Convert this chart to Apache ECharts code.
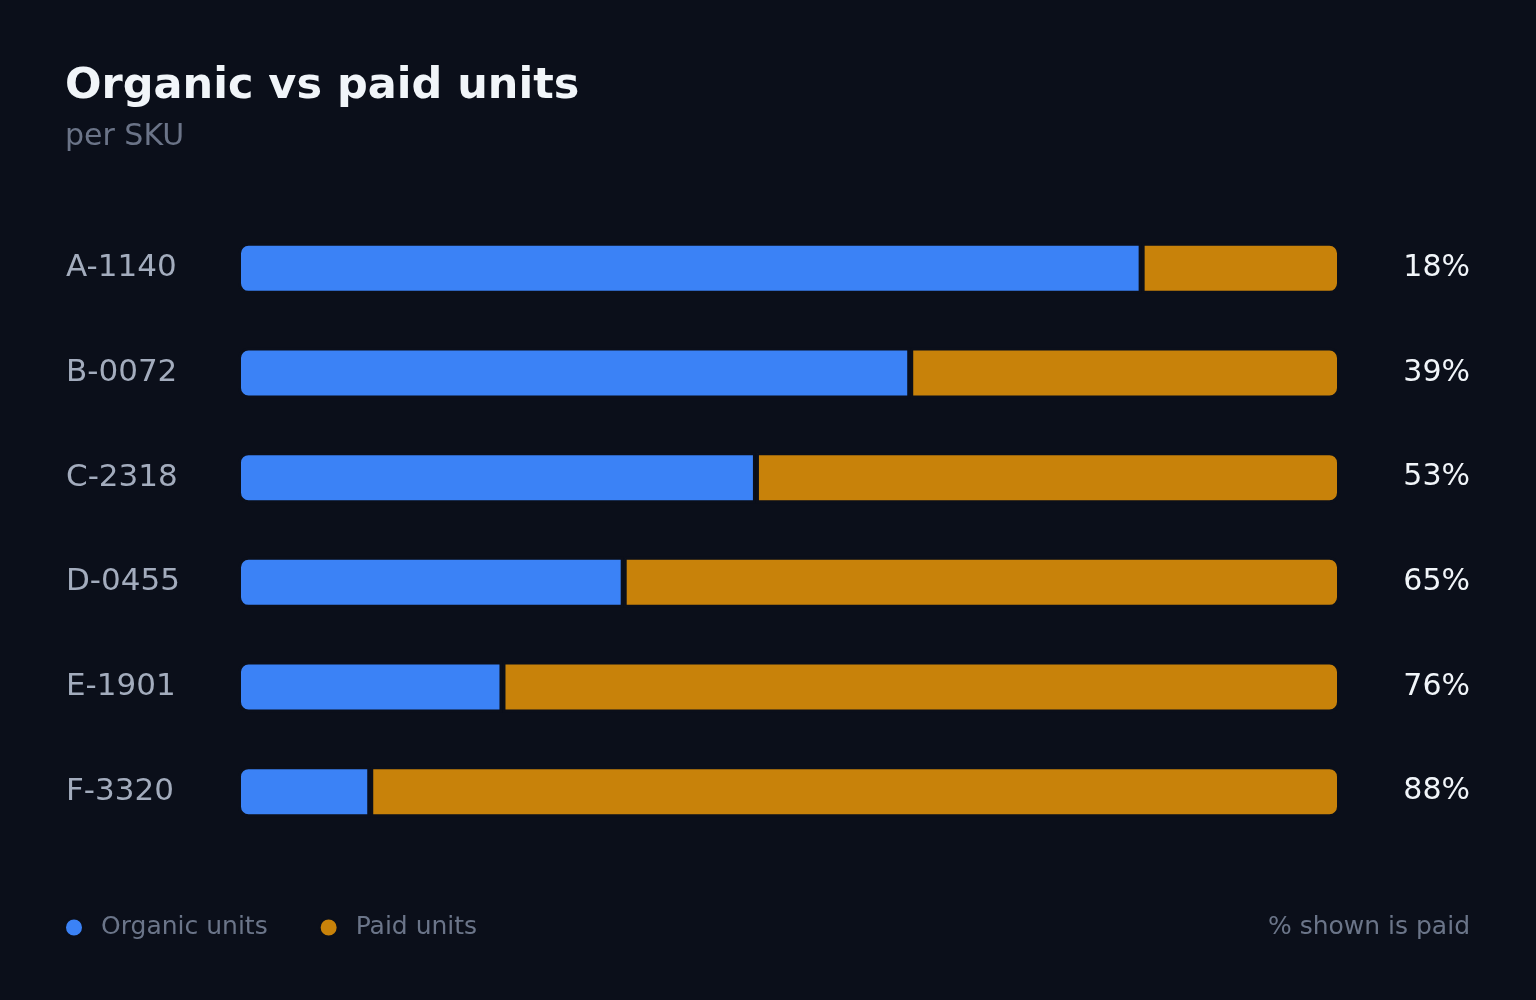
<!DOCTYPE html>
<html>
<head>
	<meta charset="utf-8"/>
	<title>Organic vs paid units</title>
	<style type="text/css">
		html,body{
			margin: 0;
			padding: 0;
			height: 100%;
			background: #0b0f1a;
			overflow: hidden;
		}
		#chart{
			width: 1536px;
			height: 1000px;
		}
	</style>
</head>
<body>
	<div id="chart"></div>

	<script src="https://cdn.jsdelivr.net/npm/echarts@6/dist/echarts.min.js"></script>
	<script type="text/javascript">

		// data (share of units per SKU, %)
		var skus = ['A-1140', 'B-0072', 'C-2318', 'D-0455', 'E-1901', 'F-3320'];
		var organic = [82, 61, 47, 35, 24, 12];
		var paid = [18, 39, 53, 65, 76, 88];

		var bg = '#0b0f1a';
		var font = 'DejaVu Sans';

		var chart = echarts.init(document.getElementById('chart'));

		var option = {
			backgroundColor: bg,
			textStyle: { fontFamily: font },
			title: {
				text: 'Organic vs paid units',
				subtext: 'per SKU',
				left: 60,
				top: 60,
				itemGap: 14,
				textStyle: {
					color: '#f1f5f9',
					fontSize: 43,
					fontWeight: 'bold',
					fontFamily: font
				},
				subtextStyle: {
					color: '#6b7488',
					fontSize: 30,
					fontFamily: font
				}
			},
			legend: {
				data: ['Organic units', 'Paid units'],
				left: 59,
				top: 910,
				icon: 'circle',
				itemWidth: 18,
				itemHeight: 18,
				itemGap: 51,
				textStyle: {
					color: '#6b7589',
					fontSize: 25,
					fontFamily: font,
					padding: [0, 0, 0, 13]
				}
			},
			graphic: [{
				type: 'text',
				right: 66,
				top: 915,
				style: {
					text: '% shown is paid',
					fill: '#6b7589',
					font: '25px "DejaVu Sans"'
				}
			}],
			grid: {
				left: 238,
				right: 196,
				top: 216,
				height: 628
			},
			xAxis: {
				type: 'value',
				min: 0,
				max: 100,
				show: false
			},
			yAxis: [
				{
					type: 'category',
					data: skus,
					inverse: true,
					axisLine: { show: false },
					axisTick: { show: false },
					axisLabel: {
						align: 'left',
						margin: 172,
						color: '#a3acbd',
						fontSize: 31,
						fontFamily: font
					}
				},
				{
					type: 'category',
					data: skus,
					inverse: true,
					position: 'right',
					axisLine: { show: false },
					axisTick: { show: false },
					axisLabel: {
						align: 'right',
						margin: 130,
						color: '#f1f5f9',
						fontSize: 30,
						fontFamily: font,
						formatter: function (v, i) { return paid[i] + '%'; }
					}
				}
			],
			series: [
				{
					name: 'Organic units',
					type: 'bar',
					stack: 'share',
					data: organic,
					barWidth: 51,
					itemStyle: {
						color: '#3b82f6',
						borderColor: bg,
						borderWidth: 3,
						borderRadius: [9, 0, 0, 9]
					}
				},
				{
					name: 'Paid units',
					type: 'bar',
					stack: 'share',
					data: paid,
					barWidth: 51,
					itemStyle: {
						color: '#c8820a',
						borderColor: bg,
						borderWidth: 3,
						borderRadius: [0, 9, 9, 0]
					}
				}
			]
		};

		chart.setOption(option);

	</script>
</body>
</html>
